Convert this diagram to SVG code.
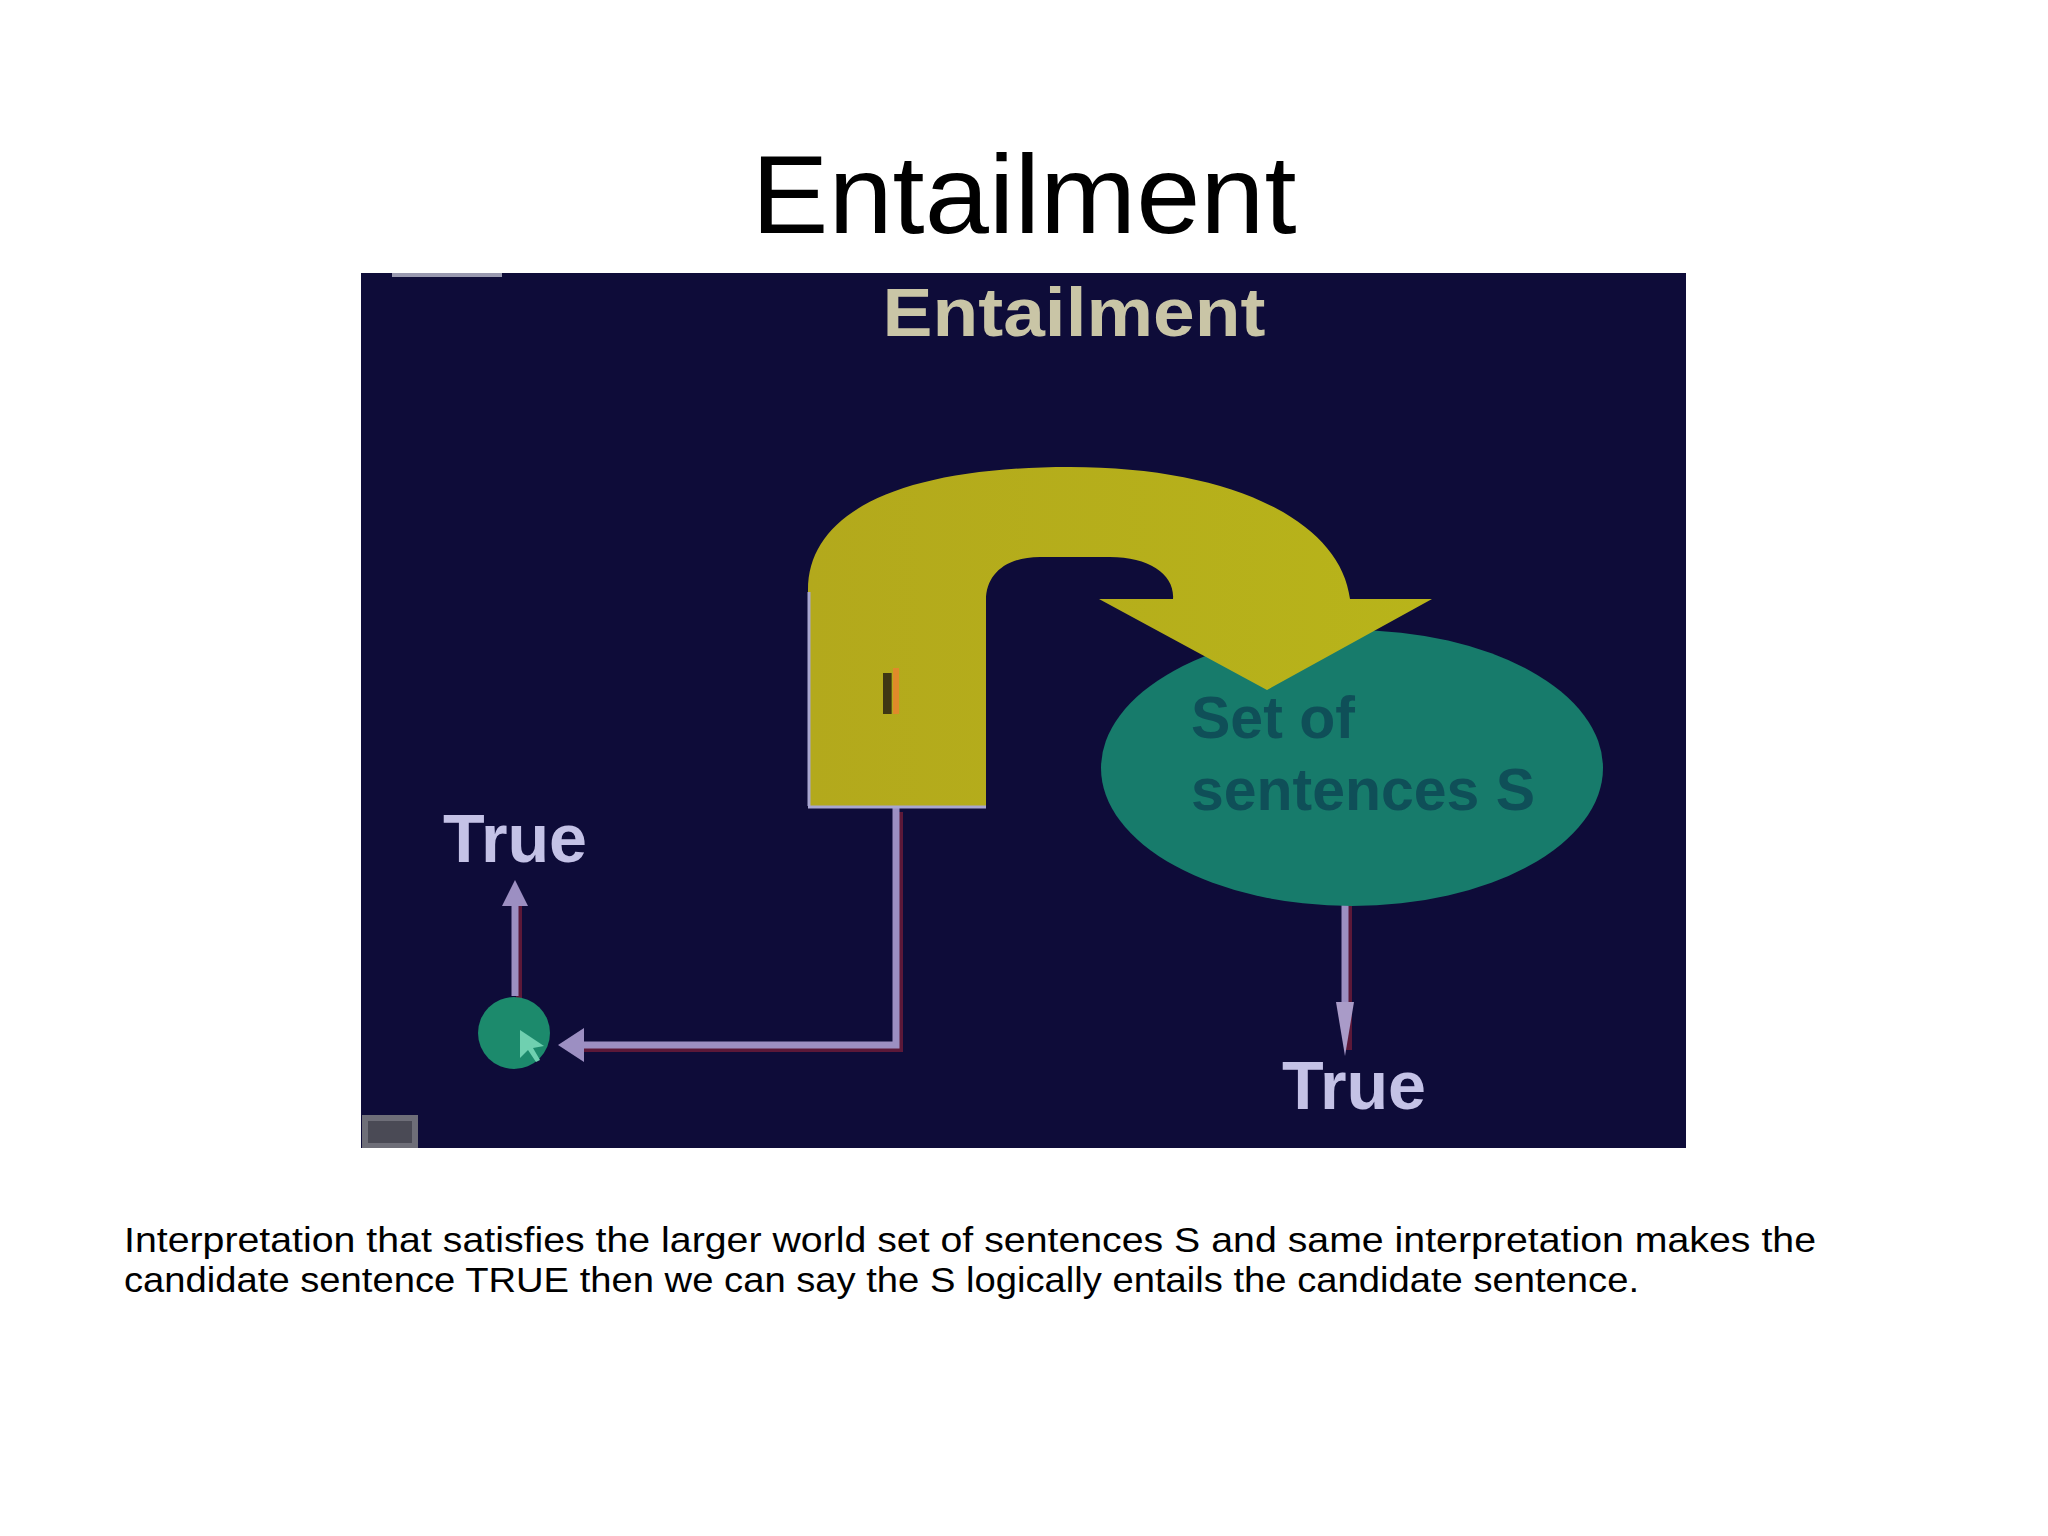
<svg xmlns="http://www.w3.org/2000/svg" width="2048" height="1536" viewBox="0 0 2048 1536">
<defs>
<style>
.title{font-family:"Liberation Sans",Arial,sans-serif;font-size:112px;fill:#000}
.caption{font-family:"Liberation Sans",Arial,sans-serif;font-size:35px;fill:#000}
.lbl{font-family:"Liberation Sans",Arial,sans-serif;font-weight:bold;font-size:68px;fill:#c4c2e6}
.inner{font-family:"Liberation Sans",Arial,sans-serif;font-weight:bold;font-size:59px;fill:#0f4f58}
.conn{fill:none;stroke:#9c8fc2;stroke-width:7}
.shadow{fill:none;stroke:#5c1838;stroke-width:6}
</style>
<marker id="ahLeft" markerUnits="userSpaceOnUse" markerWidth="26" markerHeight="34" refX="2" refY="17" orient="auto" viewBox="0 0 26 34">
<path d="M0,0 L26,17 L0,34 Z" fill="#9c8fc2"/>
</marker>
<marker id="ahUp" markerUnits="userSpaceOnUse" markerWidth="26" markerHeight="26" refX="2" refY="13" orient="auto" viewBox="0 0 26 26">
<path d="M0,0 L26,13 L0,26 Z" fill="#9c8fc2"/>
</marker>
<marker id="ahDown" markerUnits="userSpaceOnUse" markerWidth="54" markerHeight="18" refX="2" refY="9" orient="auto" viewBox="0 0 54 18">
<path d="M0,0 L54,9 L0,18 Z" fill="#a99bc8"/>
</marker>
<linearGradient id="yel" x1="0" y1="0" x2="1" y2="0">
<stop offset="0" stop-color="#b3a91c"/>
<stop offset="1" stop-color="#b8b41a"/>
</linearGradient>
</defs>

<rect width="2048" height="1536" fill="#ffffff"/>
<text class="title" x="1024" y="233" text-anchor="middle" textLength="545" lengthAdjust="spacingAndGlyphs">Entailment</text>

<g id="picture">
<rect x="361" y="273" width="1325" height="875" fill="#0e0c39"/>
<rect x="392" y="273" width="110" height="4" fill="#9a9ab0"/>
<rect x="362" y="1115" width="56" height="33" fill="#6e6e78"/>
<rect x="368" y="1121" width="44" height="22" fill="#4a4a55"/>
<text x="1074" y="336" text-anchor="middle" font-family="'Liberation Sans',Arial,sans-serif" font-weight="bold" font-size="68" fill="#c9c5a6" textLength="383" lengthAdjust="spacingAndGlyphs">Entailment</text>
</g>

<g id="connectors">
<path class="shadow" d="M 900 812 V 1049 H 582"/>
<path class="conn" d="M 896 808 V 1045 H 582" marker-end="url(#ahLeft)"/>
<path class="shadow" d="M 519 998 V 904"/>
<path class="conn" d="M 515 996 V 904" marker-end="url(#ahUp)"/>
<path class="shadow" d="M 1349 905 V 1050"/>
<path class="conn" d="M 1345 905 V 1004" marker-end="url(#ahDown)"/>
</g>

<g id="sentences">
<ellipse cx="1352" cy="768" rx="251" ry="138" fill="#177b6b"/>
<text class="inner" x="1191" y="738">Set of</text>
<text class="inner" x="1191" y="810" textLength="344" lengthAdjust="spacingAndGlyphs">sentences S</text>
</g>

<g id="interpretation">
<path d="M 808 808 L 808 590 C 808 512 900 467 1070 467 C 1230 467 1340 520 1350 599 L 1432 599 L 1267 690 L 1099 599 L 1173 599 C 1175 575 1150 557 1110 557 L 1040 557 C 1005 557 986 575 986 600 L 986 808 Z" fill="url(#yel)"/>
<path d="M 809 806 L 809 592" fill="none" stroke="#a8a6d0" stroke-width="3"/>
<path d="M 808 807 H 986" fill="none" stroke="#a8a6d0" stroke-width="3"/>
<rect x="893" y="668" width="6" height="46" fill="#e08a2a"/>
<text x="879" y="714" font-family="'Liberation Sans',Arial,sans-serif" font-weight="bold" font-size="60" fill="#3e3714">I</text>
</g>

<g id="candidate">
<circle cx="514" cy="1033" r="36" fill="#1c8a6c"/>
<path d="M 520 1030 L 520 1058 L 528 1050 L 536 1062 L 540 1060 L 533 1048 L 544 1046 Z" fill="#6fd0b0"/>
</g>

<g id="labels">
<text class="lbl" x="443" y="862" textLength="144" lengthAdjust="spacingAndGlyphs">True</text>
<text class="lbl" x="1282" y="1109" textLength="144" lengthAdjust="spacingAndGlyphs">True</text>
</g>

<g id="caption">
<text class="caption" x="124" y="1252" textLength="1692" lengthAdjust="spacingAndGlyphs">Interpretation that satisfies the larger world set of sentences S and same interpretation makes the</text>
<text class="caption" x="124" y="1292" textLength="1515" lengthAdjust="spacingAndGlyphs">candidate sentence TRUE then we can say the S logically entails the candidate sentence.</text>
</g>
</svg>
